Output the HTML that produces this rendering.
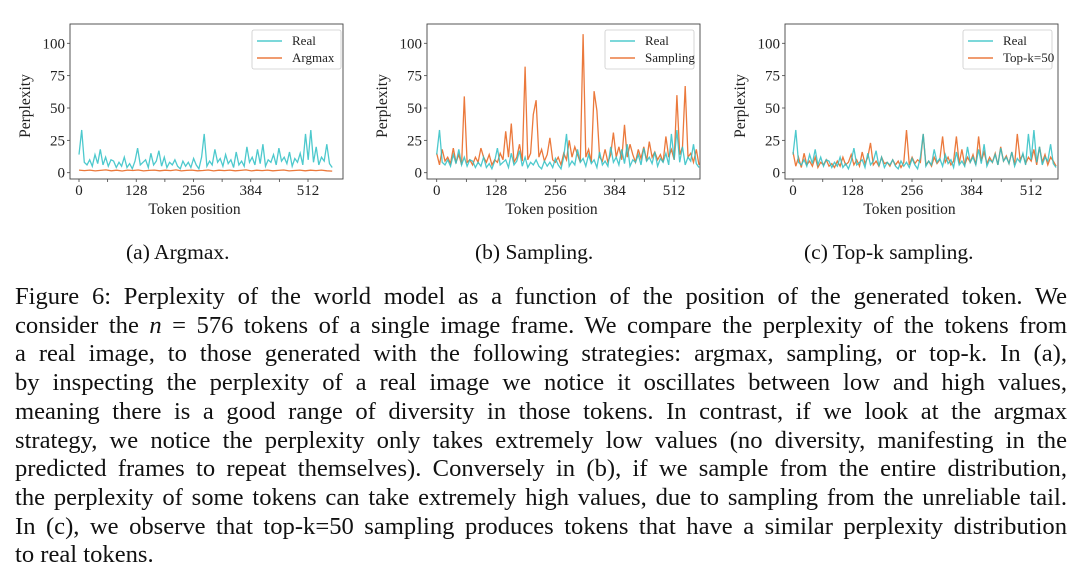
<!DOCTYPE html>
<html><head><meta charset="utf-8">
<style>
html,body{margin:0;padding:0;background:#fff;width:1080px;height:579px;overflow:hidden}
#fig{position:absolute;left:0;top:0}
.cap{position:absolute;font-family:"Liberation Serif",serif;font-size:21.5px;color:#111}
#text{position:absolute;left:15px;top:283px;width:1052px;font-family:"Liberation Serif",serif;font-size:24.6px;line-height:28.7px;color:#111}
#text span{display:block;text-align:justify;text-align-last:justify;white-space:nowrap}
#text span.last{text-align-last:left}
</style></head><body>
<svg id="fig" width="1080" height="240"></svg>
<div class="cap" style="left:126px;top:240px">(a) Argmax.</div>
<div class="cap" style="left:475px;top:240px">(b) Sampling.</div>
<div class="cap" style="left:804px;top:240px">(c) Top-k sampling.</div>
<div id="text">
<span>Figure 6: Perplexity of the world model as a function of the position of the generated token. We</span>
<span>consider the <i>n</i> = 576 tokens of a single image frame. We compare the perplexity of the tokens from</span>
<span>a real image, to those generated with the following strategies: argmax, sampling, or top-k. In (a),</span>
<span>by inspecting the perplexity of a real image we notice it oscillates between low and high values,</span>
<span>meaning there is a good range of diversity in those tokens. In contrast, if we look at the argmax</span>
<span>strategy, we notice the perplexity only takes extremely low values (no diversity, manifesting in the</span>
<span>predicted frames to repeat themselves). Conversely in (b), if we sample from the entire distribution,</span>
<span>the perplexity of some tokens can take extremely high values, due to sampling from the unreliable tail.</span>
<span>In (c), we observe that top-k=50 sampling produces tokens that have a similar perplexity distribution</span>
<span class="last">to real tokens.</span>
</div>
<script>
const xTicks = [0,128,256,384,512];
const yTicks = [0,25,50,75,100];
const realVals = [14,33,8,6,10,5,14,7,18,6,12,5,10,9,4,8,5,12,4,7,3,9,19,6,8,10,4,15,6,9,17,5,12,4,8,6,10,5,3,9,5,8,4,11,6,3,12,30,5,9,6,18,8,11,5,14,7,10,4,16,6,9,5,20,8,12,6,18,7,22,5,10,8,14,6,19,9,12,7,16,5,11,8,15,6,30,10,33,8,20,6,12,9,22,7,4];
const argmaxVals = [2,1.6,2,1.4,1.8,2.2,1.5,1.9,1.3,2,1.7,2.1,1.4,1.8,2,1.5,1.9,1.6,2.2,1.4,1.8,2,1.5,1.7,2.1,1.4,1.9,1.6,2,1.5,1.8,2.2,1.4,1.9,1.6,2,1.5,1.8,2.1,1.4,1.7,2,1.5,1.9,1.6,2,1.5,1.2];
const samplingVals = [15,6,18,9,12,7,19,8,14,6,59,8,10,6,12,8,19,12,8,14,6,10,8,15,10,32,12,38,8,12,22,9,82,10,15,45,56,12,18,9,14,27,10,8,12,6,15,10,25,12,20,14,8,107,12,18,8,63,48,12,9,18,8,14,31,12,20,10,37,12,22,14,8,18,11,20,9,24,12,16,10,14,8,28,12,18,10,60,14,20,67,12,15,8,18,6];
const topkVals = [16,5,12,4,15,6,9,5,12,4,8,6,10,5,7,4,9,5,12,6,8,14,6,10,5,16,7,12,23,6,9,5,12,7,8,5,10,6,9,4,8,33,6,12,7,10,8,30,6,9,5,12,7,10,28,8,12,6,9,28,7,18,6,12,8,14,6,28,9,16,7,12,8,15,6,20,9,13,7,16,6,30,10,14,7,12,9,18,6,20,8,14,6,12,9,5];
const panels = [
 {x0:70, x79:79, x512:308, other:argmaxVals, label:"Argmax", name:"argmax"},
 {x0:427, x79:436.7, x512:674, other:samplingVals, label:"Sampling", name:"sampling"},
 {x0:785, x79:793, x512:1031, other:topkVals, label:"Top-k=50", name:"topk"}
];
const NS="http://www.w3.org/2000/svg";
const svg=document.getElementById('fig');
function mk(t,a,p){const e=document.createElementNS(NS,t);for(const k in a)e.setAttribute(k,a[k]);(p||svg).appendChild(e);return e;}
const TOP=24,BOT=179,Y0=172.7,Y100=43.3;
function yS(v){return Y0+(Y100-Y0)*v/100;}
function line(vals,xS){const n=vals.length;return vals.map((v,i)=>(i?'L':'M')+xS(i*566/(n-1)).toFixed(1)+','+yS(v).toFixed(1)).join('');}
panels.forEach(p=>{
 const g=mk('g',{});
 
 
 const xS=t=>p.x79+(p.x512-p.x79)*t/512;
 const w=273;
 const o=mk('path',{d:line(p.other,xS),fill:'none',stroke:'#e8621a','stroke-width':1.3,'stroke-opacity':0.85},g);
 
 
 const r=mk('path',{d:line(realVals,xS),fill:'none',stroke:'#2ec0c4','stroke-width':1.3,'stroke-opacity':0.85},g);
 
 
 if(p.name==='argmax'){g.appendChild(o);}
 mk('rect',{x:p.x0,y:TOP,width:w,height:BOT-TOP,fill:'none',stroke:'#444','stroke-width':0.9},g);
 xTicks.forEach(t=>{const x=xS(t);
  mk('line',{x1:x,x2:x,y1:BOT,y2:BOT+3,stroke:'#444','stroke-width':0.8},g);
  const tx=mk('text',{x:x,y:BOT+16,'text-anchor':'middle','font-family':'Liberation Serif, serif','font-size':15,fill:'#222'},g);tx.textContent=t;
  
  });
 for(let t=64;t<576;t+=128){const x=xS(t);mk('line',{x1:x,x2:x,y1:BOT,y2:BOT+3,stroke:'#444','stroke-width':0.8},g);}
 yTicks.forEach(t=>{const y=yS(t);
  mk('line',{x1:p.x0-3,x2:p.x0,y1:y,y2:y,stroke:'#444','stroke-width':0.8},g);
  const tx=mk('text',{x:p.x0-5,y:y+5,'text-anchor':'end','font-family':'Liberation Serif, serif','font-size':15,fill:'#222'},g);tx.textContent=t;
  
  });
 const xl=mk('text',{x:p.x0+w/2-12,y:214,'text-anchor':'middle','font-family':'Liberation Serif, serif','font-size':15.5,fill:'#222'},g);xl.textContent='Token position';
 
 
 const yl=mk('text',{x:0,y:0,'text-anchor':'middle','font-family':'Liberation Serif, serif','font-size':15.5,fill:'#222',transform:'translate('+(p.x0-40)+','+(TOP+82)+') rotate(-90)'},g);yl.textContent='Perplexity';
 
 
 const lx=p.x0+w-95+(p.name==='argmax'?4:0);
 const lg=mk('g',{},g);
 
 
 mk('rect',{x:lx,y:30,width:89,height:39,rx:2,fill:'#fff','fill-opacity':0.85,stroke:'#ccc','stroke-width':0.8},lg);
 mk('line',{x1:lx+5,x2:lx+30,y1:41,y2:41,stroke:'#2ec0c4','stroke-width':1.3},lg);
 mk('line',{x1:lx+5,x2:lx+30,y1:58,y2:58,stroke:'#e8621a','stroke-width':1.3},lg);
 const t1=mk('text',{x:lx+40,y:45,'font-family':'Liberation Serif, serif','font-size':13,fill:'#222'},lg);t1.textContent='Real';
 
 
 const t2=mk('text',{x:lx+40,y:62,'font-family':'Liberation Serif, serif','font-size':13,fill:'#222'},lg);t2.textContent=p.label;
 
 
});
</script>
</body></html>
